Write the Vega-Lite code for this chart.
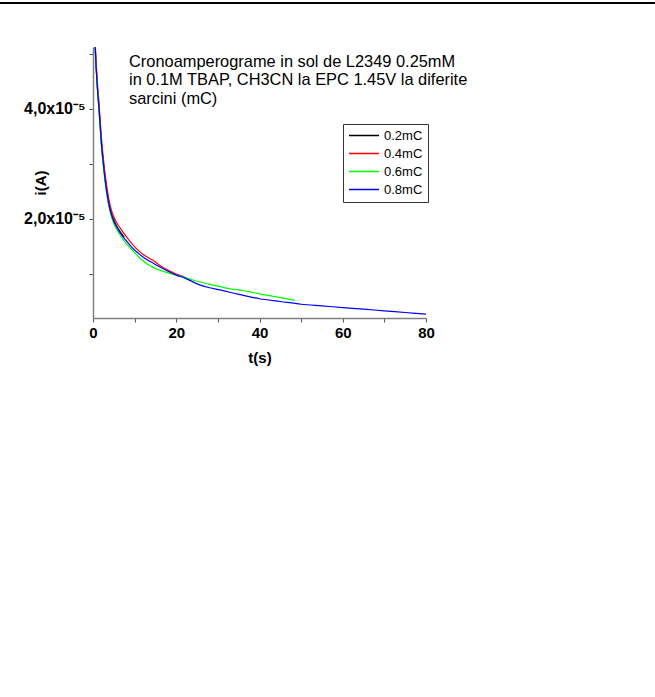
{
  "$schema": "https://vega.github.io/schema/vega-lite/v6.json",
  "width": 333,
  "height": 271,
  "autosize": "none",
  "padding": {"left": 93, "top": 47, "right": 229, "bottom": 379},
  "background": "white",
  "config": {"view": {"stroke": null}, "font": "Liberation Sans"},
  "layer": [
    {
      "data": {"values": [
        {"s": "0.2mC", "t": 0.3, "i": 5.6e-5},
        {"s": "0.2mC", "t": 0.6, "i": 5.0e-5},
        {"s": "0.2mC", "t": 1.0, "i": 4.45e-5},
        {"s": "0.2mC", "t": 1.5, "i": 3.95e-5},
        {"s": "0.2mC", "t": 2.0, "i": 3.4e-5},
        {"s": "0.2mC", "t": 2.5, "i": 3.0e-5},
        {"s": "0.2mC", "t": 3.0, "i": 2.68e-5},
        {"s": "0.2mC", "t": 3.5, "i": 2.42e-5},
        {"s": "0.2mC", "t": 4.0, "i": 2.22e-5},
        {"s": "0.2mC", "t": 4.5, "i": 2.08e-5},
        {"s": "0.2mC", "t": 5.0, "i": 1.98e-5},
        {"s": "0.2mC", "t": 5.5, "i": 1.9e-5},
        {"s": "0.2mC", "t": 6.5, "i": 1.77e-5},
        {"s": "0.2mC", "t": 7.5, "i": 1.67e-5},
        {"s": "0.4mC", "t": 0.3, "i": 5.7e-5},
        {"s": "0.4mC", "t": 0.6, "i": 5.1e-5},
        {"s": "0.4mC", "t": 1.0, "i": 4.55e-5},
        {"s": "0.4mC", "t": 1.5, "i": 4.05e-5},
        {"s": "0.4mC", "t": 2.0, "i": 3.5e-5},
        {"s": "0.4mC", "t": 2.5, "i": 3.1e-5},
        {"s": "0.4mC", "t": 3.0, "i": 2.76e-5},
        {"s": "0.4mC", "t": 3.5, "i": 2.5e-5},
        {"s": "0.4mC", "t": 4.0, "i": 2.29e-5},
        {"s": "0.4mC", "t": 4.5, "i": 2.14e-5},
        {"s": "0.4mC", "t": 5.0, "i": 2.04e-5},
        {"s": "0.4mC", "t": 5.5, "i": 1.96e-5},
        {"s": "0.4mC", "t": 6.5, "i": 1.84e-5},
        {"s": "0.4mC", "t": 8.0, "i": 1.68e-5},
        {"s": "0.4mC", "t": 9.5, "i": 1.54e-5},
        {"s": "0.4mC", "t": 11.0, "i": 1.42e-5},
        {"s": "0.4mC", "t": 12.5, "i": 1.33e-5},
        {"s": "0.4mC", "t": 14.4, "i": 1.25e-5},
        {"s": "0.4mC", "t": 16.0, "i": 1.16e-5},
        {"s": "0.4mC", "t": 18.0, "i": 1.07e-5},
        {"s": "0.4mC", "t": 20.0, "i": 1.0e-5},
        {"s": "0.4mC", "t": 22.0, "i": 0.95e-5},
        {"s": "0.6mC", "t": 0.3, "i": 5.6e-5},
        {"s": "0.6mC", "t": 0.6, "i": 5.0e-5},
        {"s": "0.6mC", "t": 1.0, "i": 4.45e-5},
        {"s": "0.6mC", "t": 1.5, "i": 3.9e-5},
        {"s": "0.6mC", "t": 2.0, "i": 3.35e-5},
        {"s": "0.6mC", "t": 2.5, "i": 2.95e-5},
        {"s": "0.6mC", "t": 3.0, "i": 2.62e-5},
        {"s": "0.6mC", "t": 3.5, "i": 2.36e-5},
        {"s": "0.6mC", "t": 4.0, "i": 2.16e-5},
        {"s": "0.6mC", "t": 4.5, "i": 2.02e-5},
        {"s": "0.6mC", "t": 5.0, "i": 1.92e-5},
        {"s": "0.6mC", "t": 5.5, "i": 1.84e-5},
        {"s": "0.6mC", "t": 6.5, "i": 1.71e-5},
        {"s": "0.6mC", "t": 8.0, "i": 1.55e-5},
        {"s": "0.6mC", "t": 9.5, "i": 1.43e-5},
        {"s": "0.6mC", "t": 11.0, "i": 1.31e-5},
        {"s": "0.6mC", "t": 12.0, "i": 1.24e-5},
        {"s": "0.6mC", "t": 13.0, "i": 1.18e-5},
        {"s": "0.6mC", "t": 14.4, "i": 1.12e-5},
        {"s": "0.6mC", "t": 16.0, "i": 1.07e-5},
        {"s": "0.6mC", "t": 18.0, "i": 1.02e-5},
        {"s": "0.6mC", "t": 20.0, "i": 0.98e-5},
        {"s": "0.6mC", "t": 22.0, "i": 0.94e-5},
        {"s": "0.6mC", "t": 24.0, "i": 0.89e-5},
        {"s": "0.6mC", "t": 26.0, "i": 0.85e-5},
        {"s": "0.6mC", "t": 28.0, "i": 0.81e-5},
        {"s": "0.6mC", "t": 30.5, "i": 0.77e-5},
        {"s": "0.6mC", "t": 33.0, "i": 0.73e-5},
        {"s": "0.6mC", "t": 36.0, "i": 0.7e-5},
        {"s": "0.6mC", "t": 38.0, "i": 0.67e-5},
        {"s": "0.6mC", "t": 40.0, "i": 0.64e-5},
        {"s": "0.6mC", "t": 42.0, "i": 0.61e-5},
        {"s": "0.6mC", "t": 45.0, "i": 0.57e-5},
        {"s": "0.6mC", "t": 48.5, "i": 0.52e-5},
        {"s": "0.8mC", "t": 0.3, "i": 5.6e-5},
        {"s": "0.8mC", "t": 0.6, "i": 5.0e-5},
        {"s": "0.8mC", "t": 1.0, "i": 4.45e-5},
        {"s": "0.8mC", "t": 1.5, "i": 3.95e-5},
        {"s": "0.8mC", "t": 2.0, "i": 3.4e-5},
        {"s": "0.8mC", "t": 2.5, "i": 3.0e-5},
        {"s": "0.8mC", "t": 3.0, "i": 2.66e-5},
        {"s": "0.8mC", "t": 3.5, "i": 2.4e-5},
        {"s": "0.8mC", "t": 4.0, "i": 2.2e-5},
        {"s": "0.8mC", "t": 4.5, "i": 2.06e-5},
        {"s": "0.8mC", "t": 5.0, "i": 1.96e-5},
        {"s": "0.8mC", "t": 5.5, "i": 1.88e-5},
        {"s": "0.8mC", "t": 6.5, "i": 1.75e-5},
        {"s": "0.8mC", "t": 8.0, "i": 1.6e-5},
        {"s": "0.8mC", "t": 9.5, "i": 1.47e-5},
        {"s": "0.8mC", "t": 11.0, "i": 1.37e-5},
        {"s": "0.8mC", "t": 12.5, "i": 1.28e-5},
        {"s": "0.8mC", "t": 14.4, "i": 1.2e-5},
        {"s": "0.8mC", "t": 16.0, "i": 1.13e-5},
        {"s": "0.8mC", "t": 18.0, "i": 1.05e-5},
        {"s": "0.8mC", "t": 20.0, "i": 0.98e-5},
        {"s": "0.8mC", "t": 22.0, "i": 0.93e-5},
        {"s": "0.8mC", "t": 25.0, "i": 0.82e-5},
        {"s": "0.8mC", "t": 28.0, "i": 0.75e-5},
        {"s": "0.8mC", "t": 30.5, "i": 0.71e-5},
        {"s": "0.8mC", "t": 35.0, "i": 0.63e-5},
        {"s": "0.8mC", "t": 40.0, "i": 0.55e-5},
        {"s": "0.8mC", "t": 45.0, "i": 0.5e-5},
        {"s": "0.8mC", "t": 50.0, "i": 0.45e-5},
        {"s": "0.8mC", "t": 55.0, "i": 0.42e-5},
        {"s": "0.8mC", "t": 60.0, "i": 0.39e-5},
        {"s": "0.8mC", "t": 65.0, "i": 0.36e-5},
        {"s": "0.8mC", "t": 70.0, "i": 0.33e-5},
        {"s": "0.8mC", "t": 75.0, "i": 0.3e-5},
        {"s": "0.8mC", "t": 80.0, "i": 0.27e-5}
      ]},
      "mark": {"type": "line", "clip": true, "strokeWidth": 1.2, "interpolate": "monotone"},
      "encoding": {
        "x": {
          "field": "t", "type": "quantitative",
          "scale": {"domain": [0, 80], "nice": false},
          "axis": {
            "values": [0, 10, 20, 30, 40, 50, 60, 70, 80],
            "format": "d",
            "labelExpr": "datum.value % 20 == 0 ? datum.label : ''",
            "title": "t(s)", "grid": false,
            "domainColor": "#808080", "domainWidth": 1.5,
            "tickColor": "#555555", "tickSize": 4, "tickWidth": 1,
            "labelFont": "Liberation Sans", "labelFontSize": 15, "labelFontWeight": "bold", "labelColor": "black",
            "labelPadding": 3, "labelFlush": false, "labelOverlap": false,
            "titleFont": "Liberation Sans", "titleFontSize": 15, "titleFontWeight": "bold", "titleColor": "black",
            "titlePadding": 10
          }
        },
        "y": {
          "field": "i", "type": "quantitative",
          "scale": {"domain": [2e-6, 5.127e-5], "nice": false, "zero": false},
          "axis": {
            "values": [1e-5, 2e-5, 3e-5, 4e-5, 5e-5],
            "labelExpr": "round(datum.value*1e5) == 2 ? '2,0x10⁻⁵' : (round(datum.value*1e5) == 4 ? '4,0x10⁻⁵' : '')",
            "title": "i(A)", "grid": false,
            "domainColor": "#808080", "domainWidth": 1.5,
            "tickColor": "#555555", "tickSize": 4, "tickWidth": 1,
            "labelFont": "Liberation Sans", "labelFontSize": 16, "labelFontWeight": "bold", "labelColor": "black",
            "labelPadding": 4, "labelFlush": false, "labelOverlap": false,
            "titleFont": "Liberation Sans", "titleFontSize": 15, "titleFontWeight": "bold", "titleColor": "black",
            "titleX": -53, "titleY": 135.5, "titleAngle": -90, "titleAlign": "center", "titleBaseline": "middle"
          }
        },
        "color": {
          "field": "s", "type": "nominal",
          "scale": {"domain": ["0.2mC", "0.4mC", "0.6mC", "0.8mC"], "range": ["#000000", "#ff0000", "#00ff00", "#0000ff"]},
          "legend": {
            "title": null, "orient": "none", "legendX": 250, "legendY": 77, "direction": "vertical",
            "symbolType": "stroke", "symbolSize": 900, "clipHeight": 13,
            "rowPadding": 4, "padding": 5, "strokeColor": "#333333",
            "labelFont": "Liberation Sans", "labelFontSize": 13, "labelOffset": 4, "labelColor": "black"
          }
        }
      }
    },
    {
      "data": {"values": [{"note": "annotation"}]},
      "mark": {"type": "text", "align": "left", "baseline": "alphabetic", "font": "Liberation Sans", "fontSize": 16.4, "lineHeight": 18.5},
      "encoding": {
        "x": {"datum": 8.65},
        "y": {"datum": 4.764e-5},
        "text": {"value": ["Cronoamperograme in sol de L2349 0.25mM", "in 0.1M TBAP, CH3CN la EPC 1.45V la diferite", "sarcini (mC)"]}
      }
    },
    {
      "data": {"values": [{"note": "frame"}]},
      "mark": {"type": "rule", "strokeWidth": 2, "stroke": "black"},
      "encoding": {
        "x": {"datum": -22.34},
        "x2": {"datum": 135},
        "y": {"datum": 5.927e-5}
      }
    }
  ]
}
